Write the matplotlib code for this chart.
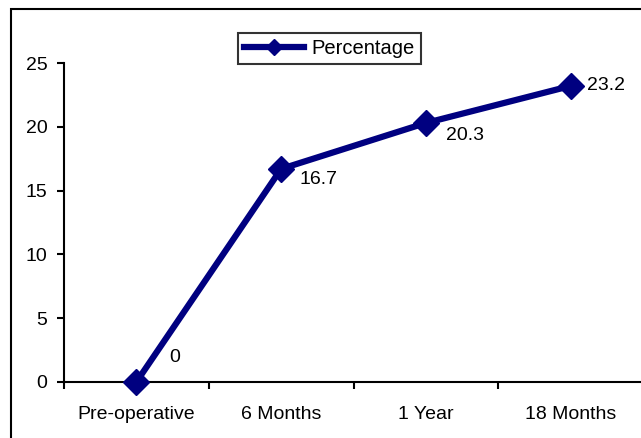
import matplotlib.pyplot as plt
from matplotlib.patches import Rectangle

# Valores
categorias = ["Pre-operative", "6 Months", "1 Year", "18 Months"]
porcentaje = [0, 16.7, 20.3, 23.2]

# desplazamientos de las etiquetas de datos (pixeles)
offsets = [(33, 25), (18, -11), (20, -13), (16, 0)]

plt.rcParams['font.family'] = ['Liberation Sans', 'DejaVu Sans']

W, H = 641, 438
fig = plt.figure(figsize=(W / 100, H / 100), dpi=100)

# marco exterior (cortado a la derecha y abajo)
fig.patches.append(Rectangle((11 / W, -0.1), 1.2, (H - 9) / H + 0.1,
                             transform=fig.transFigure, fill=False,
                             edgecolor="black", linewidth=1.5))

ax = fig.add_axes([64 / W, (H - 382) / H, 579 / W, 319 / H])
x = list(range(len(categorias)))
ax.plot(x, porcentaje, color="#000080", linewidth=4.5, marker="D",
        markersize=13.5, label="Percentage", clip_on=False, zorder=3)

for xi, v, (dx, dy) in zip(x, porcentaje, offsets):
    ax.annotate(f"{v:g}", (xi, v), xytext=(dx, dy), textcoords="offset pixels",
                ha="left", va="center", fontsize=14)

ax.set_xlim(-0.5, 3.5)
ax.set_ylim(0, 25)
ax.set_yticks([0, 5, 10, 15, 20, 25])
ax.set_xticks(x)
ax.set_xticklabels(categorias)
ax.set_xticks([-0.5, 0.5, 1.5, 2.5, 3.5], minor=True)
ax.tick_params(axis="x", which="major", length=0, pad=17, labelsize=14)
ax.tick_params(axis="x", which="minor", length=5, width=1.5, direction="out")
ax.tick_params(axis="y", length=5, width=1.5, direction="out", pad=7, labelsize=14)

for s in ["top", "right"]:
    ax.spines[s].set_visible(False)
for s in ["left", "bottom"]:
    ax.spines[s].set_linewidth(1.5)

leg = ax.legend(loc="upper left", bbox_to_anchor=((238 - 64) / 579, (382 - 33) / 319),
                fontsize=14.5, frameon=True, fancybox=False, borderpad=0.3,
                handlelength=3.0, handletextpad=0.35, borderaxespad=0,
                markerscale=0.6)
leg.get_frame().set_edgecolor("black")
leg.get_frame().set_linewidth(1.5)

fig.savefig("out.png", dpi=100)
